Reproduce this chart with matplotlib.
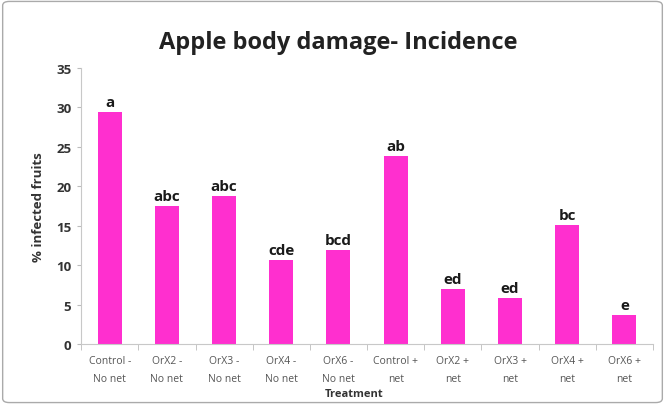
import numpy as np
import matplotlib.pyplot as plt
from matplotlib.patches import FancyBboxPatch

plt.rcParams['font.family'] = ['Liberation Sans Narrow', 'Open Sans', 'DejaVu Sans']

# Données
treatments = ['Control -\nNo net', 'OrX2 -\nNo net', 'OrX3 -\nNo net', 'OrX4 -\nNo net',
              'OrX6 -\nNo net', 'Control +\nnet', 'OrX2 +\nnet', 'OrX3 +\nnet',
              'OrX4 +\nnet', 'OrX6 +\nnet']
incidence = [29.4, 17.5, 18.8, 10.6, 11.9, 23.8, 7.0, 5.8, 15.1, 3.7]
letters = ['a', 'abc', 'abc', 'cde', 'bcd', 'ab', 'ed', 'ed', 'bc', 'e']

fig = plt.figure(figsize=(6.65, 4.06), dpi=100)
ax = fig.add_axes([0.122, 0.150, 0.860, 0.680])

x = np.arange(len(treatments))
ax.bar(x, incidence, width=0.42, color='#FF2FCF')

for xi, v, lab in zip(x, incidence, letters):
    ax.text(xi, v + 0.4, lab, ha='center', va='bottom', fontsize=11,
            fontweight='bold', color='#1a1a1a')

ax.set_xlim(-0.5, len(treatments) - 0.5)
ax.set_ylim(0, 35)
ax.set_yticks(range(0, 36, 5))
ax.set_xticks(x)
ax.set_xticklabels(treatments, fontsize=7.5, color='#555555', linespacing=1.8)
ax.set_xticks(np.arange(-0.5, len(treatments), 1), minor=True)
ax.tick_params(axis='x', which='major', length=0, pad=8)
ax.tick_params(axis='x', which='minor', length=4, color='#bbbbbb')
ax.tick_params(axis='y', length=3, color='#bbbbbb', labelsize=9.5, labelcolor='#333333', pad=4)
for t in ax.get_yticklabels():
    t.set_fontweight('bold')

for s in ['top', 'right']:
    ax.spines[s].set_visible(False)
ax.spines['left'].set_color('#c8c8c8')
ax.spines['bottom'].set_color('#c8c8c8')

ax.set_ylabel('% infected fruits', fontsize=9.5, color='#333333', fontweight='bold', labelpad=8)
fig.text(0.532, 0.028, 'Treatment', ha='center', va='center', fontsize=8,
         fontweight='bold', color='#333333')

fig.text(0.508, 0.893, 'Apple body damage- Incidence', ha='center', va='center',
         fontsize=17, fontweight='bold', color='#222222')

border = FancyBboxPatch((0.004, 0.006), 0.992, 0.988, boxstyle='round,pad=0,rounding_size=0.01',
                        transform=fig.transFigure, fill=False, edgecolor='#aaaaaa', linewidth=1)
fig.patches.append(border)

fig.savefig('out.png', dpi=100)
